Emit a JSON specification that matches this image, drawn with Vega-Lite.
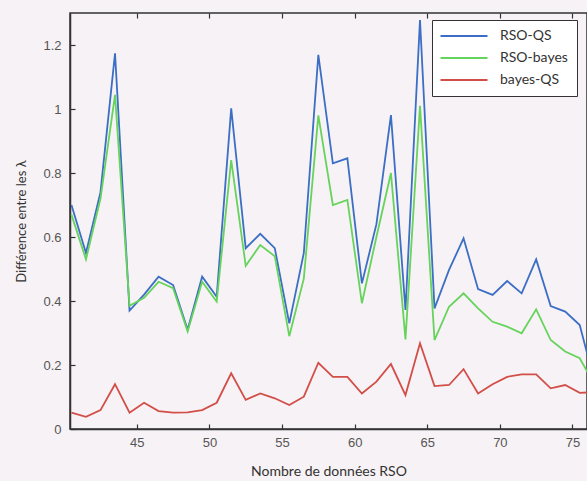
{
  "$schema": "https://vega.github.io/schema/vega-lite/v6.json",
  "width": 517,
  "height": 416,
  "autosize": {"type": "none"},
  "padding": {"left": 70, "top": 13, "right": 0, "bottom": 52},
  "background": "#f7f2f5",
  "config": {
    "view": {"stroke": "#333333", "strokeWidth": 1.5},
    "axis": {
      "grid": false,
      "domainColor": "#333333",
      "domainWidth": 1.5,
      "tickColor": "#333333",
      "tickWidth": 1.2,
      "tickSize": -5,
      "labelFont": "Liberation Sans",
      "labelFontSize": 13,
      "labelColor": "#555555",
      "titleFont": "Lato",
      "titleFontSize": 13,
      "titleFontWeight": "normal",
      "titleColor": "#333333"
    },
    "legend": {
      "labelFont": "Lato",
      "labelFontSize": 14,
      "labelColor": "#333333"
    }
  },
  "data": {
    "values": [
      {"n": 40.5, "RSO-QS": 0.70, "RSO-bayes": 0.67, "bayes-QS": 0.051},
      {"n": 41.5, "RSO-QS": 0.55, "RSO-bayes": 0.53, "bayes-QS": 0.038},
      {"n": 42.5, "RSO-QS": 0.74, "RSO-bayes": 0.72, "bayes-QS": 0.059},
      {"n": 43.5, "RSO-QS": 1.174, "RSO-bayes": 1.044, "bayes-QS": 0.14},
      {"n": 44.5, "RSO-QS": 0.37, "RSO-bayes": 0.385, "bayes-QS": 0.051},
      {"n": 45.5, "RSO-QS": 0.42, "RSO-bayes": 0.41, "bayes-QS": 0.082},
      {"n": 46.5, "RSO-QS": 0.476, "RSO-bayes": 0.46, "bayes-QS": 0.056},
      {"n": 47.5, "RSO-QS": 0.45, "RSO-bayes": 0.44, "bayes-QS": 0.051},
      {"n": 48.5, "RSO-QS": 0.31, "RSO-bayes": 0.305, "bayes-QS": 0.052},
      {"n": 49.5, "RSO-QS": 0.476, "RSO-bayes": 0.46, "bayes-QS": 0.059},
      {"n": 50.5, "RSO-QS": 0.413, "RSO-bayes": 0.398, "bayes-QS": 0.082},
      {"n": 51.5, "RSO-QS": 1.002, "RSO-bayes": 0.84, "bayes-QS": 0.174},
      {"n": 52.5, "RSO-QS": 0.565, "RSO-bayes": 0.51, "bayes-QS": 0.091},
      {"n": 53.5, "RSO-QS": 0.61, "RSO-bayes": 0.575, "bayes-QS": 0.111},
      {"n": 54.5, "RSO-QS": 0.565, "RSO-bayes": 0.54, "bayes-QS": 0.096},
      {"n": 55.5, "RSO-QS": 0.33, "RSO-bayes": 0.29, "bayes-QS": 0.075},
      {"n": 56.5, "RSO-QS": 0.55, "RSO-bayes": 0.47, "bayes-QS": 0.101},
      {"n": 57.5, "RSO-QS": 1.169, "RSO-bayes": 0.98, "bayes-QS": 0.207},
      {"n": 58.5, "RSO-QS": 0.83, "RSO-bayes": 0.70, "bayes-QS": 0.163},
      {"n": 59.5, "RSO-QS": 0.846, "RSO-bayes": 0.716, "bayes-QS": 0.163},
      {"n": 60.5, "RSO-QS": 0.455, "RSO-bayes": 0.393, "bayes-QS": 0.111},
      {"n": 61.5, "RSO-QS": 0.64, "RSO-bayes": 0.60, "bayes-QS": 0.148},
      {"n": 62.5, "RSO-QS": 0.981, "RSO-bayes": 0.80, "bayes-QS": 0.203},
      {"n": 63.5, "RSO-QS": 0.372, "RSO-bayes": 0.28, "bayes-QS": 0.106},
      {"n": 64.5, "RSO-QS": 1.278, "RSO-bayes": 1.01, "bayes-QS": 0.268},
      {"n": 65.5, "RSO-QS": 0.377, "RSO-bayes": 0.278, "bayes-QS": 0.134},
      {"n": 66.5, "RSO-QS": 0.497, "RSO-bayes": 0.382, "bayes-QS": 0.1375},
      {"n": 67.5, "RSO-QS": 0.596, "RSO-bayes": 0.424, "bayes-QS": 0.187},
      {"n": 68.5, "RSO-QS": 0.437, "RSO-bayes": 0.377, "bayes-QS": 0.111},
      {"n": 69.5, "RSO-QS": 0.419, "RSO-bayes": 0.335, "bayes-QS": 0.14},
      {"n": 70.5, "RSO-QS": 0.4625, "RSO-bayes": 0.32, "bayes-QS": 0.163},
      {"n": 71.5, "RSO-QS": 0.424, "RSO-bayes": 0.299, "bayes-QS": 0.171},
      {"n": 72.5, "RSO-QS": 0.53, "RSO-bayes": 0.374, "bayes-QS": 0.171},
      {"n": 73.5, "RSO-QS": 0.384, "RSO-bayes": 0.278, "bayes-QS": 0.127},
      {"n": 74.5, "RSO-QS": 0.367, "RSO-bayes": 0.242, "bayes-QS": 0.1375},
      {"n": 75.5, "RSO-QS": 0.325, "RSO-bayes": 0.221, "bayes-QS": 0.113},
      {"n": 76.5, "RSO-QS": 0.15, "RSO-bayes": 0.14, "bayes-QS": 0.115}
    ]
  },
  "transform": [
    {"fold": ["RSO-QS", "RSO-bayes", "bayes-QS"], "as": ["serie", "diff"]}
  ],
  "layer": [
    {
      "mark": {"type": "line", "strokeWidth": 1.8, "clip": true},
      "encoding": {
        "x": {
          "field": "n",
          "type": "quantitative",
          "scale": {"domain": [40.4, 76], "nice": false, "zero": false},
          "axis": {
            "orient": "bottom",
            "values": [45, 50, 55, 60, 65, 70, 75],
            "labelPadding": 12,
            "title": "Nombre de données RSO",
            "titleFontSize": 14,
            "titlePadding": 15
          }
        },
        "y": {
          "field": "diff",
          "type": "quantitative",
          "scale": {"domain": [0, 1.3], "nice": false},
          "axis": {
            "values": [0, 0.2, 0.4, 0.6, 0.8, 1, 1.2],
            "format": "~g",
            "labelPadding": 14,
            "title": "Différence entre les λ",
            "titlePadding": 14
          }
        },
        "color": {
          "field": "serie",
          "type": "nominal",
          "sort": ["RSO-QS", "RSO-bayes", "bayes-QS"],
          "scale": {
            "domain": ["RSO-QS", "RSO-bayes", "bayes-QS"],
            "range": ["#3b6ec4", "#66d35c", "#d24e48"]
          },
          "legend": {
            "title": null,
            "orient": "none",
            "legendX": 362,
            "legendY": 7,
            "symbolType": "M-4,0H4",
            "symbolSize": 138,
            "symbolStrokeWidth": 2,
            "symbolOffset": 16,
            "labelOffset": 29,
            "labelExpr": "datum.label + '\u00a0\u00a0\u00a0\u00a0\u00a0\u00a0\u00a0\u00a0\u00a0'",
            "rowPadding": 8,
            "padding": 9,
            "strokeColor": "#333333",
            "fillColor": "#ffffff"
          }
        }
      }
    },
    {
      "mark": {"type": "rule", "opacity": 0},
      "encoding": {
        "x": {
          "field": "n",
          "type": "quantitative",
          "axis": {
            "orient": "top",
            "values": [45, 50, 55, 60, 65, 70, 75],
            "labels": false,
            "title": null,
            "domain": false
          }
        }
      }
    }
  ],
  "resolve": {"axis": {"x": "independent"}}
}
